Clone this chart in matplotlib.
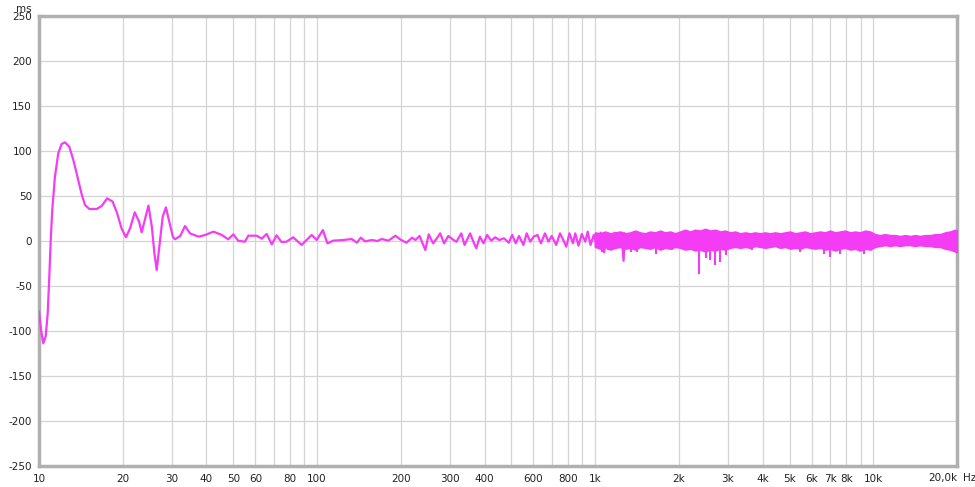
#!/usr/bin/env python3
"""
群遅延 (Group delay) プロットの再現
"""
import matplotlib
matplotlib.use('Agg')
import matplotlib.pyplot as plt

# 低域〜中域: 個々の山谷が読める部分 (Hz, ms)
lf_freq = [10.0, 10.17, 10.36, 10.57, 10.75, 10.89, 11.02, 11.16, 11.41, 11.73,
           12.06, 12.4, 12.85, 13.29, 13.74, 14.26, 14.64, 15.17, 16.12, 16.8,
           17.58, 18.4, 19.1, 19.8, 20.55, 21.25, 22.1, 22.9, 23.4, 23.93,
           24.75, 25.45, 26.0, 26.5, 27.25, 27.85, 28.6, 29.5, 30.3, 30.8,
           32.2, 33.5, 34.9, 37.5, 39.6, 42.4, 45.4, 47.9, 50.0, 52.0,
           55.0, 56.6, 60.7, 63.2, 65.9, 68.7, 71.5, 74.5, 77.6, 82.0,
           88.0, 95.6, 99.7, 104.9, 108.9, 114.3, 124.2, 133.2, 139.0, 143.6,
           148.8, 157.3, 164.7, 170.8, 180.6, 191.3, 199.5, 209.7, 219.6, 225.7,
           233.6, 245.0, 252.0, 261.2, 271.2, 277.0, 286.3, 296.3, 307.0, 317.0,
           330.0, 339.0, 355.0, 364.6, 373.7, 385.0, 396.7, 408.7, 423.0, 437.0,
           452.0, 470.0, 489.0, 503.0, 518.0, 532.0, 552.0, 567.0, 584.0, 601.0,
           620.0, 638.0, 660.0, 679.0, 698.0, 724.0, 747.0, 768.0, 787.0, 808.0,
           832.0, 848.0, 871.0, 895.0, 921.0, 940.0, 962.0, 988.0, 1017.0, 1046.0,
           1076.0, 1108.0, 1140.0, 1173.0, 1207.0, 1242.0, 1265.0, 1278.0, 1315.0]
lf_ms = [-78.5, -98.9, -113.7, -106.0, -80.0, -39.6, 1.1, 34.4, 71.4, 97.4,
         107.8, 109.6, 104.8, 90.0, 71.4, 51.1, 40.0, 35.6, 35.6, 38.9,
         47.4, 43.7, 30.8, 14.1, 4.1, 14.1, 31.9, 21.4, 9.6, 21.4,
         39.3, 15.9, -13.7, -32.2, 1.1, 27.0, 37.4, 19.6, 4.8, 1.9,
         5.6, 16.7, 8.5, 4.8, 6.7, 10.4, 6.7, 1.9, 7.4, 0.3,
         -0.8, 5.9, 5.9, 2.6, 7.8, -3.7, 6.3, -1.1, -0.8, 4.1,
         -4.4, 6.7, 1.1, 12.2, -2.6, 0.4, 1.1, 2.2, -1.9, 3.7,
         -0.4, 1.1, 0.0, 2.2, 0.4, 5.9, 1.5, -1.9, 3.7, 1.1,
         5.6, -10.0, 7.4, -2.6, 4.1, 8.5, -2.6, 5.6, 1.9, -0.8,
         8.5, -4.4, 8.5, -0.7, -8.1, 4.8, -2.6, 6.7, 0.4, 4.1,
         1.1, 3.0, -1.9, 6.7, -2.6, 5.6, -4.4, 8.5, -0.7, 4.8,
         6.7, -2.6, 8.5, -0.7, 5.6, -4.4, 8.5, 1.1, -6.3, 8.5,
         -2.6, 8.5, -5.2, 7.8, -0.7, 10.4, -4.4, 6.7, -6.3, 9.3,
         -12.6, 8.5, -4.4, 9.3, -0.7, 8.5, -22.0, 8.5, -4.4]

# 高域: 密な帯の上端・下端 (Hz, ms)
hf_freq = [1000, 1042, 1086, 1132, 1180, 1230, 1282, 1336, 1392, 1451,
           1512, 1576, 1643, 1712, 1785, 1860, 1939, 2021, 2106, 2195,
           2288, 2385, 2485, 2590, 2700, 2814, 2933, 3057, 3186, 3320,
           3461, 3607, 3759, 3918, 4084, 4256, 4436, 4624, 4819, 5023,
           5235, 5456, 5687, 5927, 6178, 6439, 6711, 6994, 7290, 7598,
           7919, 8254, 8603, 8966, 9345, 9740, 10152, 10581, 11028, 11494,
           11980, 12486, 13014, 13564, 14137, 14734, 15357, 16006, 16682, 17387,
           18122, 18888, 19686, 20000]
hf_upper = [9, 8, 10, 8, 9, 10, 8, 9, 11, 9,
            8, 10, 9, 11, 9, 10, 8, 10, 12, 10,
            12, 11, 13, 11, 12, 10, 11, 9, 10, 8,
            9, 8, 9, 8, 9, 8, 9, 8, 9, 10,
            8, 9, 10, 8, 9, 10, 9, 11, 9, 10,
            11, 9, 10, 9, 11, 10, 7, 6, 7, 6,
            6, 5, 6, 5, 6, 5, 6, 6, 7, 7,
            9, 10, 12, 11]
hf_lower = [-6, -8, -6, -9, -7, -6, -8, -7, -9, -6,
            -7, -8, -6, -9, -7, -8, -6, -7, -9, -8,
            -10, -9, -11, -9, -10, -8, -9, -7, -6, -7,
            -6, -7, -5, -6, -7, -6, -5, -7, -6, -8,
            -7, -8, -6, -7, -8, -7, -9, -8, -10, -8,
            -7, -9, -8, -10, -8, -9, -6, -5, -4, -5,
            -4, -5, -4, -4, -5, -4, -5, -5, -6, -6,
            -8, -9, -11, -12]

# 高域の下向きスパイク (Hz, ms)
dip_freq = [1057, 1108, 1340, 1419, 1657, 1887, 2367, 2508, 2592, 2702,
            2816, 2950, 3650, 5463, 6627, 7003, 7600, 9228]
dip_ms = [-12, -10, -12, -12, -14, -10, -37, -19, -21, -27,
          -23, -16, -10, -12, -14, -18, -14, -14]

y_ticks = [250, 200, 150, 100, 50, 0, -50, -100, -150, -200, -250]
x_ticks = [10, 20, 30, 40, 50, 60, 80, 100, 200, 300, 400, 600, 800,
           1000, 2000, 3000, 4000, 5000, 6000, 7000, 8000, 10000]
x_labels = ['10', '20', '30', '40', '50', '60', '80', '100', '200', '300',
            '400', '600', '800', '1k', '2k', '3k', '4k', '5k', '6k', '7k',
            '8k', '10k']

plt.rcParams['font.family'] = ['DejaVu Sans']
plt.rcParams['axes.unicode_minus'] = False

line_color = '#f43cf4'
grid_color = '#d4d4d4'
frame_color = '#b0b0b0'
text_color = '#222222'

fig = plt.figure(figsize=(9.75, 4.87), dpi=100)
ax = fig.add_axes([39 / 975, 21 / 487, 918 / 975, 450 / 487])

ax.set_xscale('log')
ax.set_xlim(10, 20000)
ax.set_ylim(-250, 250)

# グリッド (1-9 の倍数ごと)
minor = [m * 10 ** e for e in range(1, 5) for m in range(1, 10) if m * 10 ** e <= 20000]
for f in minor:
    ax.axvline(f, color=grid_color, lw=0.9, zorder=1)
for v in y_ticks:
    ax.axhline(v, color=grid_color, lw=0.9, zorder=1)

# 帯 + スパイク + 線
ax.fill_between(hf_freq, hf_lower, hf_upper, color=line_color,
                edgecolor=line_color, lw=1.8, zorder=3)
ax.vlines(dip_freq, 0, dip_ms, color=line_color, lw=1.5, zorder=3)
ax.plot(lf_freq, lf_ms, color=line_color, lw=1.6, zorder=4)

ax.set_xticks(x_ticks)
ax.set_xticklabels(x_labels)
ax.xaxis.set_minor_locator(matplotlib.ticker.NullLocator())
ax.set_yticks(y_ticks)
ax.tick_params(axis='both', length=0, labelsize=7.5, colors=text_color)
ax.tick_params(axis='y', pad=5)
ax.tick_params(axis='x', pad=6)

for s in ax.spines.values():
    s.set_color(frame_color)
    s.set_linewidth(2.5)

ax.text(1.0, -0.0155, '20,0k', transform=ax.transAxes, ha='right', va='top',
        fontsize=7.5, color=text_color)
ax.text(1.006, -0.0155, 'Hz', transform=ax.transAxes, ha='left', va='top',
        fontsize=7.5, color=text_color)
ax.text(-0.016, 1.005, 'ms', transform=ax.transAxes, ha='center', va='bottom',
        fontsize=7.5, color=text_color)

fig.savefig('out.png', dpi=100)
plt.close(fig)
